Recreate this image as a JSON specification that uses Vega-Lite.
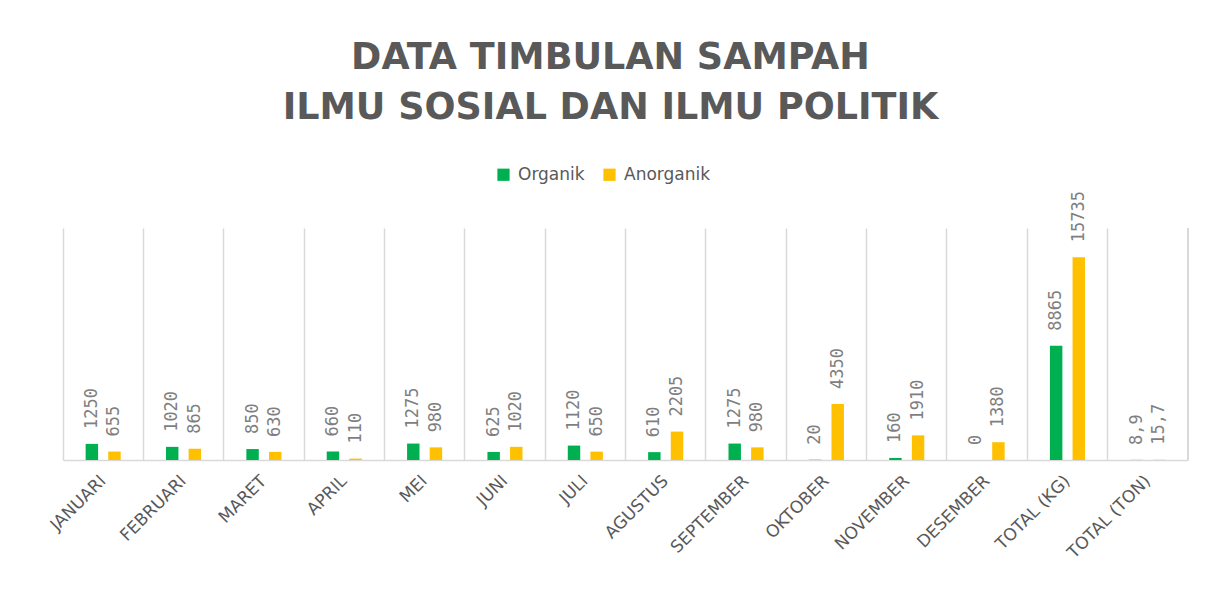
{
  "$schema": "https://vega.github.io/schema/vega-lite/v6.json",
  "width": 1125,
  "height": 232,
  "autosize": {"type": "none"},
  "padding": {"left": 63, "top": 228, "right": 28, "bottom": 152},
  "background": "white",
  "config": {
    "view": {"stroke": null},
    "locale": {"number": {"decimal": ",", "thousands": ".", "grouping": [3], "currency": ["", ""]}}
  },
  "title": {
    "text": ["DATA TIMBULAN SAMPAH", "ILMU SOSIAL DAN ILMU POLITIK"],
    "font": "DejaVu Sans",
    "fontSize": 36.5,
    "fontWeight": "bold",
    "color": "#595959",
    "anchor": "middle",
    "dx": -15,
    "lineHeight": 50,
    "offset": 40
  },
  "data": {
    "values": [
      {"bulan": "JANUARI", "jenis": "Organik", "nilai": 1250},
      {"bulan": "JANUARI", "jenis": "Anorganik", "nilai": 655},
      {"bulan": "FEBRUARI", "jenis": "Organik", "nilai": 1020},
      {"bulan": "FEBRUARI", "jenis": "Anorganik", "nilai": 865},
      {"bulan": "MARET", "jenis": "Organik", "nilai": 850},
      {"bulan": "MARET", "jenis": "Anorganik", "nilai": 630},
      {"bulan": "APRIL", "jenis": "Organik", "nilai": 660},
      {"bulan": "APRIL", "jenis": "Anorganik", "nilai": 110},
      {"bulan": "MEI", "jenis": "Organik", "nilai": 1275},
      {"bulan": "MEI", "jenis": "Anorganik", "nilai": 980},
      {"bulan": "JUNI", "jenis": "Organik", "nilai": 625},
      {"bulan": "JUNI", "jenis": "Anorganik", "nilai": 1020},
      {"bulan": "JULI", "jenis": "Organik", "nilai": 1120},
      {"bulan": "JULI", "jenis": "Anorganik", "nilai": 650},
      {"bulan": "AGUSTUS", "jenis": "Organik", "nilai": 610},
      {"bulan": "AGUSTUS", "jenis": "Anorganik", "nilai": 2205},
      {"bulan": "SEPTEMBER", "jenis": "Organik", "nilai": 1275},
      {"bulan": "SEPTEMBER", "jenis": "Anorganik", "nilai": 980},
      {"bulan": "OKTOBER", "jenis": "Organik", "nilai": 20},
      {"bulan": "OKTOBER", "jenis": "Anorganik", "nilai": 4350},
      {"bulan": "NOVEMBER", "jenis": "Organik", "nilai": 160},
      {"bulan": "NOVEMBER", "jenis": "Anorganik", "nilai": 1910},
      {"bulan": "DESEMBER", "jenis": "Organik", "nilai": 0},
      {"bulan": "DESEMBER", "jenis": "Anorganik", "nilai": 1380},
      {"bulan": "TOTAL (KG)", "jenis": "Organik", "nilai": 8865},
      {"bulan": "TOTAL (KG)", "jenis": "Anorganik", "nilai": 15735},
      {"bulan": "TOTAL (TON)", "jenis": "Organik", "nilai": 8.9},
      {"bulan": "TOTAL (TON)", "jenis": "Anorganik", "nilai": 15.7}
    ]
  },
  "encoding": {
    "x": {
      "field": "bulan",
      "type": "nominal",
      "sort": null,
      "scale": {
        "domain": ["JANUARI", "FEBRUARI", "MARET", "APRIL", "MEI", "JUNI", "JULI", "AGUSTUS", "SEPTEMBER", "OKTOBER", "NOVEMBER", "DESEMBER", "TOTAL (KG)", "TOTAL (TON)"],
        "paddingInner": 0,
        "paddingOuter": 0
      },
      "axis": {
        "title": null,
        "labelAngle": -45,
        "labelAlign": "right",
        "labelBaseline": "middle",
        "labelFont": "DejaVu Sans",
        "labelFontSize": 17,
        "labelColor": "#595959",
        "labelPadding": 18,
        "ticks": false,
        "domainColor": "#d9d9d9",
        "domainWidth": 1.5,
        "grid": true,
        "gridColor": "#d9d9d9",
        "gridWidth": 1.5,
        "bandPosition": 0
      }
    },
    "xOffset": {
      "field": "jenis",
      "type": "nominal",
      "sort": ["Organik", "Anorganik"],
      "scale": {"paddingInner": 0.45, "paddingOuter": 1.15}
    },
    "y": {
      "field": "nilai",
      "type": "quantitative",
      "scale": {"domain": [0, 18000], "nice": false},
      "axis": null
    }
  },
  "layer": [
    {
      "mark": {"type": "rule", "color": "#d9d9d9", "strokeWidth": 1.5},
      "encoding": {
        "x": {"datum": "TOTAL (TON)", "bandPosition": 1},
        "xOffset": null,
        "y": {"value": 0},
        "y2": {"value": 232}
      }
    },
    {
      "mark": {"type": "bar"},
      "encoding": {
        "color": {
          "field": "jenis",
          "type": "nominal",
          "sort": ["Organik", "Anorganik"],
          "scale": {"domain": ["Organik", "Anorganik"], "range": ["#00B050", "#FFC000"]},
          "legend": {
            "title": null,
            "orient": "none",
            "legendX": 432,
            "legendY": -62,
            "direction": "horizontal",
            "symbolType": "square",
            "symbolSize": 150,
            "symbolStrokeWidth": 0,
            "labelFont": "DejaVu Sans",
            "labelFontSize": 17,
            "labelColor": "#595959",
            "columnPadding": 16,
            "labelOffset": 6
          }
        }
      }
    },
    {
      "mark": {
        "type": "text",
        "angle": -90,
        "align": "left",
        "baseline": "middle",
        "dx": 15,
        "font": "DejaVu Sans Mono",
        "fontSize": 17,
        "color": "#7f7f7f"
      },
      "encoding": {
        "text": {"field": "nilai", "type": "quantitative", "format": "~g"}
      }
    }
  ]
}
